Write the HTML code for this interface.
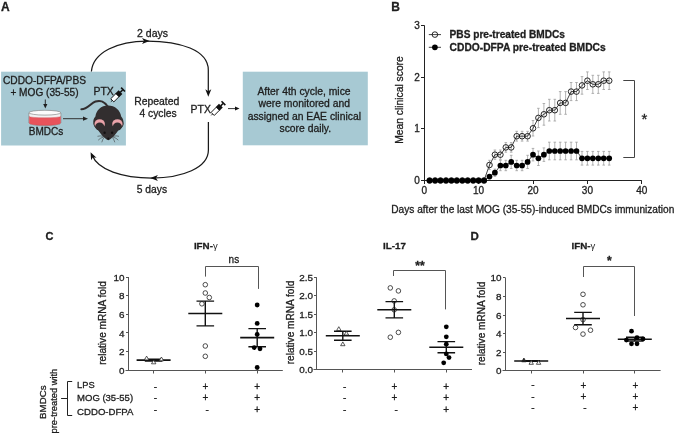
<!DOCTYPE html>
<html><head><meta charset="utf-8"><style>
html,body{margin:0;padding:0;background:#fff;}
svg{display:block;will-change:transform;filter:blur(0.3px);}
text{font-family:"Liberation Sans", sans-serif;fill:#1e1e1e;stroke:#1e1e1e;stroke-width:0.3px;}
</style></head><body>
<svg width="675" height="434" viewBox="0 0 675 434" font-family='"Liberation Sans", sans-serif'>
<rect width="675" height="434" fill="#fff"/>
<text x="0.9" y="10.5" font-size="12" font-weight="bold">A</text><rect x="1.1" y="71.7" width="124.8" height="73.8" fill="#a7c9d3"/><rect x="242.8" y="71.7" width="125" height="73.6" fill="#a7c9d3"/><text x="44.5" y="84.1" font-size="10.2" text-anchor="middle">CDDO-DFPA/PBS</text><text x="44.5" y="96.1" font-size="10.1" text-anchor="middle">+ MOG (35-55)</text><line x1="45.3" y1="99.5" x2="45.3" y2="105" stroke="#1e1e1e" stroke-width="0.9"/><path d="M43.2 104 L47.4 104 L45.3 108.6 Z" fill="#1e1e1e"/><path d="M28.9 113 L28.9 123 A16 2.5 0 0 0 60.9 123 L60.9 113 Z" fill="#f2f2f2" stroke="#777" stroke-width="0.6"/><path d="M29.3 116.4 L29.3 123 A15.6 2.3 0 0 0 60.5 123 L60.5 116.4 A15.6 1.4 0 0 1 29.3 116.4 Z" fill="#e8535b" stroke="#c9474f" stroke-width="0.4"/><ellipse cx="44.9" cy="112.7" rx="16" ry="2.4" fill="#fbfbfb" stroke="#777" stroke-width="0.6"/><text x="46" y="135.4" font-size="10" text-anchor="middle">BMDCs</text><line x1="63" y1="118.7" x2="84" y2="118.7" stroke="#333" stroke-width="1"/><path d="M83 116.6 L88 118.7 L83 120.8 Z" fill="#222"/><text x="93.5" y="95" font-size="10.45">PTX</text><g transform="translate(117.8 94.8) rotate(-45) scale(1.0)"><line x1="-9.8" y1="0" x2="-7.8" y2="0" stroke="#111" stroke-width="0.9"/><rect x="-7.8" y="-2.2" width="7.5" height="4.4" fill="#fff" stroke="#111" stroke-width="0.9"/><rect x="-0.8" y="-2.65" width="4.6" height="5.3" fill="#111"/><rect x="3.6" y="-0.75" width="3.2" height="1.5" fill="#111"/><rect x="6.6" y="-2.7" width="1.6" height="5.4" fill="#111"/></g><g><path d="M108 107 C105 101.5, 100 100, 95.5 101.5 C91 103, 87 109.5, 81.4 109.3" fill="none" stroke="#322e2f" stroke-width="2.1" stroke-linecap="round"/><path d="M108 105.6 C101 105.6, 96.2 110.5, 95.4 116.5 C93.5 118.5, 93 121, 93.4 123.5 C93.8 126, 96 127.5, 97 128.5 C100 133, 104 138.5, 108.3 140.3 C112.6 138.5, 116.6 133, 119.6 128.5 C121 127.5, 123.3 126, 123.5 123.5 C123.7 121, 123 118.5, 121.2 116.5 C120.4 110.5, 115 105.6, 108 105.6 Z" fill="#322e2f"/><ellipse cx="99.7" cy="123.9" rx="6.1" ry="5.6" fill="#322e2f"/><ellipse cx="117.4" cy="123.9" rx="6.1" ry="5.6" fill="#322e2f"/><ellipse cx="99.7" cy="123.9" rx="5.2" ry="4.7" fill="#eaa3a9"/><ellipse cx="117.4" cy="123.9" rx="5.2" ry="4.7" fill="#eaa3a9"/><ellipse cx="99.7" cy="126.5" rx="4.5" ry="4.0" fill="#322e2f"/><ellipse cx="117.4" cy="126.5" rx="4.5" ry="4.0" fill="#322e2f"/><circle cx="104.6" cy="132.8" r="1.2" fill="#141213"/><circle cx="112.1" cy="132.8" r="1.2" fill="#141213"/><circle cx="108.3" cy="138.6" r="1.1" fill="#141213"/><path d="M103.5 136.3 Q100 135.5 97.5 136.3 M103.5 137 Q100 138 98.2 140.2 M104 137.5 Q102.5 139.5 101.8 142.3 M113 136.3 Q116.5 135.5 119 136.3 M113 137 Q116.5 138 118.3 140.2 M112.5 137.5 Q114 139.5 114.8 142.3" stroke="#333" stroke-width="0.55" fill="none"/></g><path d="M91.4 71.5 C93 52, 118 41, 147 41 C180 41, 208.3 50, 208.3 70 L208.3 93" fill="none" stroke="#1a1a1a" stroke-width="1.25"/><path d="M149.60 40.90 L142.00 43.90 L144.00 40.90 L142.00 37.90 Z" fill="#111"/><path d="M208.30 96.80 L205.30 89.20 L208.30 91.20 L211.30 89.20 Z" fill="#111"/><path d="M208.4 122 L208.4 150 C208.4 168, 182 178, 152 178 C122 178, 98 170, 92 155" fill="none" stroke="#1a1a1a" stroke-width="1.25"/><path d="M150.30 178.00 L157.90 175.00 L155.90 178.00 L157.90 181.00 Z" fill="#111"/><path d="M90.60 152.20 L96.53 157.82 L92.97 157.28 L91.09 160.36 Z" fill="#111"/><text x="152.5" y="37.3" font-size="10.5" text-anchor="middle">2 days</text><text x="151.9" y="193" font-size="10.3" text-anchor="middle">5 days</text><text x="156.8" y="104.8" font-size="10.4" text-anchor="middle">Repeated</text><text x="158.1" y="117.3" font-size="10.3" text-anchor="middle">4 cycles</text><text x="190.6" y="113.1" font-size="10.45">PTX</text><g transform="translate(218.2 108.4) rotate(-45) scale(1.0)"><line x1="-9.8" y1="0" x2="-7.8" y2="0" stroke="#111" stroke-width="0.9"/><rect x="-7.8" y="-2.2" width="7.5" height="4.4" fill="#fff" stroke="#111" stroke-width="0.9"/><rect x="-0.8" y="-2.65" width="4.6" height="5.3" fill="#111"/><rect x="3.6" y="-0.75" width="3.2" height="1.5" fill="#111"/><rect x="6.6" y="-2.7" width="1.6" height="5.4" fill="#111"/></g><line x1="228" y1="108.6" x2="236" y2="108.6" stroke="#222" stroke-width="0.9"/><path d="M235 106.6 L239.5 108.6 L235 110.6 Z" fill="#111"/><text x="304.0" y="94.7" font-size="10.35" text-anchor="middle">After 4th cycle, mice</text><text x="304.3" y="107.1" font-size="10.35" text-anchor="middle">were monitored and</text><text x="304.3" y="119.5" font-size="10.35" text-anchor="middle">assigned an EAE clinical</text><text x="305.3" y="131.9" font-size="10.35" text-anchor="middle">score daily.</text><text x="391.2" y="10.6" font-size="12" font-weight="bold">B</text><path d="M424.5 25.4 V180.5 M421.0 180.5 H641.8" stroke="#222" stroke-width="1" fill="none"/><line x1="421" y1="180.5" x2="424.5" y2="180.5" stroke="#222" stroke-width="1"/><text x="419.8" y="184.1" font-size="10" text-anchor="end">0</text><line x1="421" y1="128.5" x2="424.5" y2="128.5" stroke="#222" stroke-width="1"/><text x="419.8" y="132.4" font-size="10" text-anchor="end">1</text><line x1="421" y1="77.5" x2="424.5" y2="77.5" stroke="#222" stroke-width="1"/><text x="419.8" y="80.7" font-size="10" text-anchor="end">2</text><line x1="421" y1="25.5" x2="424.5" y2="25.5" stroke="#222" stroke-width="1"/><text x="419.8" y="29.0" font-size="10" text-anchor="end">3</text><line x1="424.5" y1="180.5" x2="424.5" y2="184" stroke="#222" stroke-width="1"/><text x="424.2" y="193.6" font-size="10" text-anchor="middle">0</text><line x1="478.5" y1="180.5" x2="478.5" y2="184" stroke="#222" stroke-width="1"/><text x="478.6" y="193.6" font-size="10" text-anchor="middle">10</text><line x1="533.5" y1="180.5" x2="533.5" y2="184" stroke="#222" stroke-width="1"/><text x="533.0" y="193.6" font-size="10" text-anchor="middle">20</text><line x1="587.5" y1="180.5" x2="587.5" y2="184" stroke="#222" stroke-width="1"/><text x="587.4" y="193.6" font-size="10" text-anchor="middle">30</text><line x1="641.5" y1="180.5" x2="641.5" y2="184" stroke="#222" stroke-width="1"/><text x="641.8" y="193.6" font-size="10" text-anchor="middle">40</text><text transform="translate(402.9 100) rotate(-90)" font-size="10.3" text-anchor="middle">Mean clinical score</text><text x="532.8" y="212.6" font-size="10.15" text-anchor="middle">Days after the last MOG (35-55)-induced BMDCs immunization</text><path d="M489.5 160.3V169.6M488.2 160.3h2.6M488.2 169.6h2.6M494.9 150.0V159.3M493.6 150.0h2.6M493.6 159.3h2.6M500.4 150.0V159.3M499.1 150.0h2.6M499.1 159.3h2.6M505.8 142.6V152.2M504.5 142.6h2.6M504.5 152.2h2.6M511.2 142.6V152.2M509.9 142.6h2.6M509.9 152.2h2.6M516.7 131.3V141.1M515.4 131.3h2.6M515.4 141.1h2.6M522.1 131.3V141.1M520.8 131.3h2.6M520.8 141.1h2.6M527.6 131.3V141.1M526.3 131.3h2.6M526.3 141.1h2.6M533.0 120.5V136.0M531.7 120.5h2.6M531.7 136.0h2.6M538.4 108.3V127.6M537.1 108.3h2.6M537.1 127.6h2.6M543.9 103.5V125.2M542.6 103.5h2.6M542.6 125.2h2.6M549.3 99.3V121.0M548.0 99.3h2.6M548.0 121.0h2.6M554.8 99.3V121.0M553.5 99.3h2.6M553.5 121.0h2.6M560.2 91.6V114.3M558.9 91.6h2.6M558.9 114.3h2.6M565.6 91.6V114.3M564.3 91.6h2.6M564.3 114.3h2.6M571.1 82.5V100.6M569.8 82.5h2.6M569.8 100.6h2.6M576.5 82.5V100.6M575.2 82.5h2.6M575.2 100.6h2.6M582.0 76.6V94.2M580.7 76.6h2.6M580.7 94.2h2.6M587.4 71.9V89.5M586.1 71.9h2.6M586.1 89.5h2.6M592.8 75.3V93.4M591.5 75.3h2.6M591.5 93.4h2.6M598.3 75.3V93.4M597.0 75.3h2.6M597.0 93.4h2.6M603.7 71.9V89.5M602.4 71.9h2.6M602.4 89.5h2.6M609.2 71.9V89.5M607.9 71.9h2.6M607.9 89.5h2.6M489.5 174.6V178.7M488.2 174.6h2.6M488.2 178.7h2.6M494.9 169.1V176.4M493.6 169.1h2.6M493.6 176.4h2.6M500.4 160.3V170.7M499.1 160.3h2.6M499.1 170.7h2.6M505.8 160.3V170.7M504.5 160.3h2.6M504.5 170.7h2.6M511.2 155.3V168.5M509.9 155.3h2.6M509.9 168.5h2.6M516.7 160.3V170.7M515.4 160.3h2.6M515.4 170.7h2.6M522.1 160.3V170.7M520.8 160.3h2.6M520.8 170.7h2.6M527.6 155.3V168.5M526.3 155.3h2.6M526.3 168.5h2.6M533.0 148.4V160.9M531.7 148.4h2.6M531.7 160.9h2.6M538.4 151.0V165.5M537.1 151.0h2.6M537.1 165.5h2.6M543.9 147.9V161.4M542.6 147.9h2.6M542.6 161.4h2.6M549.3 142.2V159.8M548.0 142.2h2.6M548.0 159.8h2.6M554.8 142.2V159.8M553.5 142.2h2.6M553.5 159.8h2.6M560.2 142.2V159.8M558.9 142.2h2.6M558.9 159.8h2.6M565.6 142.2V159.8M564.3 142.2h2.6M564.3 159.8h2.6M571.1 142.2V159.8M569.8 142.2h2.6M569.8 159.8h2.6M576.5 142.2V159.8M575.2 142.2h2.6M575.2 159.8h2.6M582.0 151.4V165.1M580.7 151.4h2.6M580.7 165.1h2.6M587.4 151.4V165.1M586.1 151.4h2.6M586.1 165.1h2.6M592.8 151.4V165.1M591.5 151.4h2.6M591.5 165.1h2.6M598.3 151.4V165.1M597.0 151.4h2.6M597.0 165.1h2.6M603.7 151.4V165.1M602.4 151.4h2.6M602.4 165.1h2.6M609.2 151.4V165.1M607.9 151.4h2.6M607.9 165.1h2.6" stroke="#9a9a9a" stroke-width="0.75" fill="none"/><polyline points="429.6,180.5 435.1,180.5 440.5,180.5 446.0,180.5 451.4,180.5 456.8,180.5 462.3,180.5 467.7,180.5 473.2,180.5 478.6,180.5 484.0,180.5 489.5,165.0 494.9,154.7 500.4,154.7 505.8,147.4 511.2,147.4 516.7,136.2 522.1,136.2 527.6,136.2 533.0,128.3 538.4,117.9 543.9,114.3 549.3,110.2 554.8,110.2 560.2,102.9 565.6,102.9 571.1,91.6 576.5,91.6 582.0,85.4 587.4,80.7 592.8,84.3 598.3,84.3 603.7,80.7 609.2,80.7" fill="none" stroke="#111" stroke-width="0.8"/><polyline points="429.6,180.5 435.1,180.5 440.5,180.5 446.0,180.5 451.4,180.5 456.8,180.5 462.3,180.5 467.7,180.5 473.2,180.5 478.6,180.5 484.0,180.5 489.5,176.6 494.9,172.7 500.4,165.5 505.8,165.5 511.2,161.9 516.7,165.5 522.1,165.5 527.6,161.9 533.0,154.7 538.4,158.3 543.9,154.7 549.3,151.0 554.8,151.0 560.2,151.0 565.6,151.0 571.1,151.0 576.5,151.0 582.0,158.3 587.4,158.3 592.8,158.3 598.3,158.3 603.7,158.3 609.2,158.3" fill="none" stroke="#111" stroke-width="0.8"/><circle cx="429.6" cy="180.5" r="2.8" fill="none" stroke="#111" stroke-width="0.9"/><circle cx="435.1" cy="180.5" r="2.8" fill="none" stroke="#111" stroke-width="0.9"/><circle cx="440.5" cy="180.5" r="2.8" fill="none" stroke="#111" stroke-width="0.9"/><circle cx="446.0" cy="180.5" r="2.8" fill="none" stroke="#111" stroke-width="0.9"/><circle cx="451.4" cy="180.5" r="2.8" fill="none" stroke="#111" stroke-width="0.9"/><circle cx="456.8" cy="180.5" r="2.8" fill="none" stroke="#111" stroke-width="0.9"/><circle cx="462.3" cy="180.5" r="2.8" fill="none" stroke="#111" stroke-width="0.9"/><circle cx="467.7" cy="180.5" r="2.8" fill="none" stroke="#111" stroke-width="0.9"/><circle cx="473.2" cy="180.5" r="2.8" fill="none" stroke="#111" stroke-width="0.9"/><circle cx="478.6" cy="180.5" r="2.8" fill="none" stroke="#111" stroke-width="0.9"/><circle cx="484.0" cy="180.5" r="2.8" fill="none" stroke="#111" stroke-width="0.9"/><circle cx="489.5" cy="165.0" r="2.8" fill="none" stroke="#111" stroke-width="0.9"/><circle cx="494.9" cy="154.7" r="2.8" fill="none" stroke="#111" stroke-width="0.9"/><circle cx="500.4" cy="154.7" r="2.8" fill="none" stroke="#111" stroke-width="0.9"/><circle cx="505.8" cy="147.4" r="2.8" fill="none" stroke="#111" stroke-width="0.9"/><circle cx="511.2" cy="147.4" r="2.8" fill="none" stroke="#111" stroke-width="0.9"/><circle cx="516.7" cy="136.2" r="2.8" fill="none" stroke="#111" stroke-width="0.9"/><circle cx="522.1" cy="136.2" r="2.8" fill="none" stroke="#111" stroke-width="0.9"/><circle cx="527.6" cy="136.2" r="2.8" fill="none" stroke="#111" stroke-width="0.9"/><circle cx="533.0" cy="128.3" r="2.8" fill="none" stroke="#111" stroke-width="0.9"/><circle cx="538.4" cy="117.9" r="2.8" fill="none" stroke="#111" stroke-width="0.9"/><circle cx="543.9" cy="114.3" r="2.8" fill="none" stroke="#111" stroke-width="0.9"/><circle cx="549.3" cy="110.2" r="2.8" fill="none" stroke="#111" stroke-width="0.9"/><circle cx="554.8" cy="110.2" r="2.8" fill="none" stroke="#111" stroke-width="0.9"/><circle cx="560.2" cy="102.9" r="2.8" fill="none" stroke="#111" stroke-width="0.9"/><circle cx="565.6" cy="102.9" r="2.8" fill="none" stroke="#111" stroke-width="0.9"/><circle cx="571.1" cy="91.6" r="2.8" fill="none" stroke="#111" stroke-width="0.9"/><circle cx="576.5" cy="91.6" r="2.8" fill="none" stroke="#111" stroke-width="0.9"/><circle cx="582.0" cy="85.4" r="2.8" fill="none" stroke="#111" stroke-width="0.9"/><circle cx="587.4" cy="80.7" r="2.8" fill="none" stroke="#111" stroke-width="0.9"/><circle cx="592.8" cy="84.3" r="2.8" fill="none" stroke="#111" stroke-width="0.9"/><circle cx="598.3" cy="84.3" r="2.8" fill="none" stroke="#111" stroke-width="0.9"/><circle cx="603.7" cy="80.7" r="2.8" fill="none" stroke="#111" stroke-width="0.9"/><circle cx="609.2" cy="80.7" r="2.8" fill="none" stroke="#111" stroke-width="0.9"/><circle cx="429.6" cy="180.5" r="2.85" fill="#000"/><circle cx="435.1" cy="180.5" r="2.85" fill="#000"/><circle cx="440.5" cy="180.5" r="2.85" fill="#000"/><circle cx="446.0" cy="180.5" r="2.85" fill="#000"/><circle cx="451.4" cy="180.5" r="2.85" fill="#000"/><circle cx="456.8" cy="180.5" r="2.85" fill="#000"/><circle cx="462.3" cy="180.5" r="2.85" fill="#000"/><circle cx="467.7" cy="180.5" r="2.85" fill="#000"/><circle cx="473.2" cy="180.5" r="2.85" fill="#000"/><circle cx="478.6" cy="180.5" r="2.85" fill="#000"/><circle cx="484.0" cy="180.5" r="2.85" fill="#000"/><circle cx="489.5" cy="176.6" r="2.85" fill="#000"/><circle cx="494.9" cy="172.7" r="2.85" fill="#000"/><circle cx="500.4" cy="165.5" r="2.85" fill="#000"/><circle cx="505.8" cy="165.5" r="2.85" fill="#000"/><circle cx="511.2" cy="161.9" r="2.85" fill="#000"/><circle cx="516.7" cy="165.5" r="2.85" fill="#000"/><circle cx="522.1" cy="165.5" r="2.85" fill="#000"/><circle cx="527.6" cy="161.9" r="2.85" fill="#000"/><circle cx="533.0" cy="154.7" r="2.85" fill="#000"/><circle cx="538.4" cy="158.3" r="2.85" fill="#000"/><circle cx="543.9" cy="154.7" r="2.85" fill="#000"/><circle cx="549.3" cy="151.0" r="2.85" fill="#000"/><circle cx="554.8" cy="151.0" r="2.85" fill="#000"/><circle cx="560.2" cy="151.0" r="2.85" fill="#000"/><circle cx="565.6" cy="151.0" r="2.85" fill="#000"/><circle cx="571.1" cy="151.0" r="2.85" fill="#000"/><circle cx="576.5" cy="151.0" r="2.85" fill="#000"/><circle cx="582.0" cy="158.3" r="2.85" fill="#000"/><circle cx="587.4" cy="158.3" r="2.85" fill="#000"/><circle cx="592.8" cy="158.3" r="2.85" fill="#000"/><circle cx="598.3" cy="158.3" r="2.85" fill="#000"/><circle cx="603.7" cy="158.3" r="2.85" fill="#000"/><circle cx="609.2" cy="158.3" r="2.85" fill="#000"/><line x1="428.8" y1="34.6" x2="441" y2="34.6" stroke="#111" stroke-width="0.8"/><circle cx="434.9" cy="34.6" r="2.8" fill="none" stroke="#111" stroke-width="0.9"/><line x1="428.8" y1="47.3" x2="441" y2="47.3" stroke="#111" stroke-width="0.8"/><circle cx="434.9" cy="47.3" r="2.85" fill="#000"/><text x="449.6" y="38.3" font-size="10.15" font-weight="bold">PBS pre-treated BMDCs</text><text x="449.6" y="51" font-size="10.25" font-weight="bold">CDDO-DFPA pre-treated BMDCs</text><path d="M623.3 80.5 H634.5 V157.5 H623.3" fill="none" stroke="#444" stroke-width="1"/><text x="644.4" y="124.2" font-size="15" text-anchor="middle">*</text><text x="45.5" y="240.0" font-size="11" font-weight="bold">C</text><text x="470.6" y="240.4" font-size="11.5" font-weight="bold">D</text><path d="M128.5 277.0 V370.5 M125.5 370.5 H282.8" stroke="#555" stroke-width="1" fill="none"/><line x1="126.0" y1="370.5" x2="128.5" y2="370.5" stroke="#555" stroke-width="1"/><text x="124.5" y="373.8" font-size="9.9" text-anchor="end">0</text><line x1="126.0" y1="351.5" x2="128.5" y2="351.5" stroke="#555" stroke-width="1"/><text x="124.5" y="355.1" font-size="9.9" text-anchor="end">2</text><line x1="126.0" y1="332.5" x2="128.5" y2="332.5" stroke="#555" stroke-width="1"/><text x="124.5" y="336.5" font-size="9.9" text-anchor="end">4</text><line x1="126.0" y1="314.5" x2="128.5" y2="314.5" stroke="#555" stroke-width="1"/><text x="124.5" y="317.8" font-size="9.9" text-anchor="end">6</text><line x1="126.0" y1="295.5" x2="128.5" y2="295.5" stroke="#555" stroke-width="1"/><text x="124.5" y="299.2" font-size="9.9" text-anchor="end">8</text><line x1="126.0" y1="277.5" x2="128.5" y2="277.5" stroke="#555" stroke-width="1"/><text x="124.5" y="280.5" font-size="9.9" text-anchor="end">10</text><line x1="153.5" y1="370.5" x2="153.5" y2="373.5" stroke="#555" stroke-width="1"/><line x1="205.5" y1="370.5" x2="205.5" y2="373.5" stroke="#555" stroke-width="1"/><line x1="257.5" y1="370.5" x2="257.5" y2="373.5" stroke="#555" stroke-width="1"/><text transform="translate(106.4 323.0) rotate(-90)" font-size="10.1" text-anchor="middle">relative mRNA fold</text><path d="M153.6 359.2 V361.1 M144.79999999999998 359.2 h17.6 M144.79999999999998 361.1 h17.6" stroke="#111" stroke-width="1.4" fill="none"/><line x1="136.6" y1="360.1" x2="170.6" y2="360.1" stroke="#111" stroke-width="1.6"/><path d="M146.6 356.1 L148.79999999999998 359.9 L144.4 359.9 Z" fill="#fff" stroke="#222" stroke-width="0.75"/><path d="M153.7 360.0 L155.89999999999998 363.8 L151.5 363.8 Z" fill="#fff" stroke="#222" stroke-width="0.75"/><path d="M161.4 357.0 L163.6 360.8 L159.20000000000002 360.8 Z" fill="#fff" stroke="#222" stroke-width="0.75"/><path d="M205.3 301.1 V325.9 M196.5 301.1 h17.6 M196.5 325.9 h17.6" stroke="#111" stroke-width="1.4" fill="none"/><line x1="188.3" y1="313.5" x2="222.3" y2="313.5" stroke="#111" stroke-width="1.6"/><circle cx="205.3" cy="284.7" r="2.3" fill="none" stroke="#222" stroke-width="0.8"/><circle cx="205.3" cy="293.0" r="2.3" fill="none" stroke="#222" stroke-width="0.8"/><circle cx="209.3" cy="297.5" r="2.3" fill="none" stroke="#222" stroke-width="0.8"/><circle cx="201.9" cy="303.8" r="2.3" fill="none" stroke="#222" stroke-width="0.8"/><circle cx="205.3" cy="346.0" r="2.3" fill="none" stroke="#222" stroke-width="0.8"/><circle cx="205.3" cy="356.3" r="2.3" fill="none" stroke="#222" stroke-width="0.8"/><path d="M257.2 328.6 V346.7 M248.39999999999998 328.6 h17.6 M248.39999999999998 346.7 h17.6" stroke="#111" stroke-width="1.4" fill="none"/><line x1="240.2" y1="337.6" x2="274.2" y2="337.6" stroke="#111" stroke-width="1.6"/><circle cx="257.2" cy="305.0" r="2.4" fill="#000"/><circle cx="257.2" cy="323.4" r="2.4" fill="#000"/><circle cx="257.2" cy="334.4" r="2.4" fill="#000"/><circle cx="254.2" cy="347.6" r="2.4" fill="#000"/><circle cx="260" cy="348.8" r="2.4" fill="#000"/><circle cx="257.2" cy="367.5" r="2.4" fill="#000"/><text x="205.8" y="248.9" font-size="9.8" text-anchor="middle" font-weight="bold">IFN-<tspan font-weight="normal" style="stroke:none" font-size="9.5">&#947;</tspan></text><path d="M205.5 276.6 V266.5 H258.5 V288.9" fill="none" stroke="#555" stroke-width="1"/><text x="233.9" y="262.7" font-size="10" text-anchor="middle">ns</text><text x="155.4" y="389.8" font-size="10" text-anchor="middle">-</text><text x="155.4" y="401.2" font-size="10" text-anchor="middle">-</text><text x="155.4" y="413.0" font-size="10" text-anchor="middle">-</text><text x="205.3" y="389.6" font-size="10" text-anchor="middle">+</text><text x="205.3" y="401.0" font-size="10" text-anchor="middle">+</text><text x="207.1" y="413.0" font-size="10" text-anchor="middle">-</text><text x="257.2" y="389.6" font-size="10" text-anchor="middle">+</text><text x="257.2" y="401.0" font-size="10" text-anchor="middle">+</text><text x="257.2" y="412.8" font-size="10" text-anchor="middle">+</text><path d="M316.5 277.2 V369.5 M313.5 369.5 H472" stroke="#555" stroke-width="1" fill="none"/><line x1="314.0" y1="369.5" x2="316.5" y2="369.5" stroke="#555" stroke-width="1"/><text x="312.9" y="373.3" font-size="9.9" text-anchor="end">0.0</text><line x1="314.0" y1="351.5" x2="316.5" y2="351.5" stroke="#555" stroke-width="1"/><text x="312.9" y="354.8" font-size="9.9" text-anchor="end">0.5</text><line x1="314.0" y1="332.5" x2="316.5" y2="332.5" stroke="#555" stroke-width="1"/><text x="312.9" y="336.2" font-size="9.9" text-anchor="end">1.0</text><line x1="314.0" y1="314.5" x2="316.5" y2="314.5" stroke="#555" stroke-width="1"/><text x="312.9" y="317.7" font-size="9.9" text-anchor="end">1.5</text><line x1="314.0" y1="295.5" x2="316.5" y2="295.5" stroke="#555" stroke-width="1"/><text x="312.9" y="299.2" font-size="9.9" text-anchor="end">2.0</text><line x1="314.0" y1="277.5" x2="316.5" y2="277.5" stroke="#555" stroke-width="1"/><text x="312.9" y="280.7" font-size="9.9" text-anchor="end">2.5</text><line x1="342.5" y1="369.5" x2="342.5" y2="372.5" stroke="#555" stroke-width="1"/><line x1="394.5" y1="369.5" x2="394.5" y2="372.5" stroke="#555" stroke-width="1"/><line x1="446.5" y1="369.5" x2="446.5" y2="372.5" stroke="#555" stroke-width="1"/><text transform="translate(293.5 322.5) rotate(-90)" font-size="10.1" text-anchor="middle">relative mRNA fold</text><path d="M342.8 331.3 V340.2 M334.0 331.3 h17.6 M334.0 340.2 h17.6" stroke="#111" stroke-width="1.4" fill="none"/><line x1="325.8" y1="335.7" x2="359.8" y2="335.7" stroke="#111" stroke-width="1.6"/><path d="M338.8 326.7 L341.0 330.5 L336.6 330.5 Z" fill="#fff" stroke="#222" stroke-width="0.75"/><path d="M346.4 331.2 L348.59999999999997 335.0 L344.2 335.0 Z" fill="#fff" stroke="#222" stroke-width="0.75"/><path d="M342.8 341.9 L345.0 345.7 L340.6 345.7 Z" fill="#fff" stroke="#222" stroke-width="0.75"/><path d="M394.3 301.6 V317.9 M385.5 301.6 h17.6 M385.5 317.9 h17.6" stroke="#111" stroke-width="1.4" fill="none"/><line x1="377.3" y1="309.8" x2="411.3" y2="309.8" stroke="#111" stroke-width="1.6"/><circle cx="390.3" cy="287.9" r="2.3" fill="none" stroke="#222" stroke-width="0.8"/><circle cx="398.4" cy="290.9" r="2.3" fill="none" stroke="#222" stroke-width="0.8"/><circle cx="394.2" cy="300.9" r="2.3" fill="none" stroke="#222" stroke-width="0.8"/><circle cx="394.2" cy="309.8" r="2.3" fill="none" stroke="#222" stroke-width="0.8"/><circle cx="398.4" cy="332.4" r="2.3" fill="none" stroke="#222" stroke-width="0.8"/><circle cx="390.3" cy="337.2" r="2.3" fill="none" stroke="#222" stroke-width="0.8"/><path d="M446.3 341.6 V352.8 M437.5 341.6 h17.6 M437.5 352.8 h17.6" stroke="#111" stroke-width="1.4" fill="none"/><line x1="429.3" y1="347.2" x2="463.3" y2="347.2" stroke="#111" stroke-width="1.6"/><circle cx="446.3" cy="326.8" r="2.4" fill="#000"/><circle cx="446.3" cy="336.8" r="2.4" fill="#000"/><circle cx="446.3" cy="344.2" r="2.4" fill="#000"/><circle cx="446.3" cy="353.9" r="2.4" fill="#000"/><circle cx="449" cy="357.6" r="2.4" fill="#000"/><circle cx="443.7" cy="362.8" r="2.4" fill="#000"/><text x="394.5" y="248.9" font-size="9.8" text-anchor="middle" font-weight="bold">IL-17</text><path d="M393.5 276 V270.5 H445.5 V309.4" fill="none" stroke="#555" stroke-width="1"/><text x="420" y="270.2" font-size="12" text-anchor="middle" font-weight="bold">**</text><text x="344.6" y="389.8" font-size="10" text-anchor="middle">-</text><text x="344.6" y="401.2" font-size="10" text-anchor="middle">-</text><text x="344.6" y="413.0" font-size="10" text-anchor="middle">-</text><text x="394.3" y="389.6" font-size="10" text-anchor="middle">+</text><text x="394.3" y="401.0" font-size="10" text-anchor="middle">+</text><text x="396.1" y="413.0" font-size="10" text-anchor="middle">-</text><text x="446.2" y="389.6" font-size="10" text-anchor="middle">+</text><text x="446.2" y="401.0" font-size="10" text-anchor="middle">+</text><text x="446.2" y="412.8" font-size="10" text-anchor="middle">+</text><path d="M505.5 277.8 V370.5 M502.5 370.5 H660.6" stroke="#555" stroke-width="1" fill="none"/><line x1="503.0" y1="370.5" x2="505.5" y2="370.5" stroke="#555" stroke-width="1"/><text x="501.5" y="374.3" font-size="9.9" text-anchor="end">0</text><line x1="503.0" y1="352.5" x2="505.5" y2="352.5" stroke="#555" stroke-width="1"/><text x="501.5" y="355.7" font-size="9.9" text-anchor="end">2</text><line x1="503.0" y1="333.5" x2="505.5" y2="333.5" stroke="#555" stroke-width="1"/><text x="501.5" y="337.1" font-size="9.9" text-anchor="end">4</text><line x1="503.0" y1="315.5" x2="505.5" y2="315.5" stroke="#555" stroke-width="1"/><text x="501.5" y="318.5" font-size="9.9" text-anchor="end">6</text><line x1="503.0" y1="296.5" x2="505.5" y2="296.5" stroke="#555" stroke-width="1"/><text x="501.5" y="299.9" font-size="9.9" text-anchor="end">8</text><line x1="503.0" y1="277.5" x2="505.5" y2="277.5" stroke="#555" stroke-width="1"/><text x="501.5" y="281.3" font-size="9.9" text-anchor="end">10</text><line x1="531.5" y1="370.5" x2="531.5" y2="373.5" stroke="#555" stroke-width="1"/><line x1="583.5" y1="370.5" x2="583.5" y2="373.5" stroke="#555" stroke-width="1"/><line x1="634.5" y1="370.5" x2="634.5" y2="373.5" stroke="#555" stroke-width="1"/><text transform="translate(484.6 323.5) rotate(-90)" font-size="10.1" text-anchor="middle">relative mRNA fold</text><path d="M531.2 360.7 V361.4 M522.4000000000001 360.7 h17.6 M522.4000000000001 361.4 h17.6" stroke="#111" stroke-width="1.4" fill="none"/><line x1="514.2" y1="361.0" x2="548.2" y2="361.0" stroke="#111" stroke-width="1.6"/><path d="M523.9 358.0 L526.1 361.8 L521.6999999999999 361.8 Z" fill="#222" stroke="#222" stroke-width="0.75"/><path d="M531.2 360.5 L533.4000000000001 364.3 L529.0 364.3 Z" fill="#fff" stroke="#222" stroke-width="0.75"/><path d="M538.6 360.5 L540.8000000000001 364.3 L536.4 364.3 Z" fill="#fff" stroke="#222" stroke-width="0.75"/><path d="M583 312.4 V324.7 M574.2 312.4 h17.6 M574.2 324.7 h17.6" stroke="#111" stroke-width="1.4" fill="none"/><line x1="566" y1="318.5" x2="600" y2="318.5" stroke="#111" stroke-width="1.6"/><circle cx="583" cy="294.3" r="2.3" fill="none" stroke="#222" stroke-width="0.8"/><circle cx="583" cy="304.8" r="2.3" fill="none" stroke="#222" stroke-width="0.8"/><circle cx="583" cy="319.6" r="2.3" fill="none" stroke="#222" stroke-width="0.8"/><circle cx="575.5" cy="327.5" r="2.3" fill="none" stroke="#222" stroke-width="0.8"/><circle cx="590.5" cy="330.2" r="2.3" fill="none" stroke="#222" stroke-width="0.8"/><circle cx="583" cy="334.1" r="2.3" fill="none" stroke="#222" stroke-width="0.8"/><path d="M634.8 337.3 V341.0 M626.0 337.3 h17.6 M626.0 341.0 h17.6" stroke="#111" stroke-width="1.4" fill="none"/><line x1="617.8" y1="339.2" x2="651.8" y2="339.2" stroke="#111" stroke-width="1.6"/><circle cx="631.5" cy="331.2" r="2.4" fill="#000"/><circle cx="626.4" cy="340.1" r="2.4" fill="#000"/><circle cx="637" cy="337.7" r="2.4" fill="#000"/><circle cx="643" cy="338.9" r="2.4" fill="#000"/><circle cx="631.5" cy="343.8" r="2.4" fill="#000"/><circle cx="637" cy="343.8" r="2.4" fill="#000"/><text x="583.4" y="248.9" font-size="9.8" text-anchor="middle" font-weight="bold">IFN-<tspan font-weight="normal" style="stroke:none" font-size="9.5">&#947;</tspan></text><path d="M583.5 277 V266.5 H634.5 V316" fill="none" stroke="#555" stroke-width="1"/><text x="609.3" y="265.1" font-size="12" text-anchor="middle" font-weight="bold">*</text><text x="533.0" y="388.1" font-size="10" text-anchor="middle">-</text><text x="533.0" y="399.5" font-size="10" text-anchor="middle">-</text><text x="533.0" y="411.0" font-size="10" text-anchor="middle">-</text><text x="583.5" y="388.5" font-size="10" text-anchor="middle">+</text><text x="583.5" y="399.9" font-size="10" text-anchor="middle">+</text><text x="584.8" y="411.0" font-size="10" text-anchor="middle">-</text><text x="635.3" y="388.5" font-size="10" text-anchor="middle">+</text><text x="635.3" y="399.9" font-size="10" text-anchor="middle">+</text><text x="635.3" y="411.4" font-size="10" text-anchor="middle">+</text><text x="77.1" y="388.3" font-size="9.3">LPS</text><text x="77.1" y="401.2" font-size="9.5">MOG (35-55)</text><text x="77.1" y="415.2" font-size="9.6">CDDO-DFPA</text><path d="M72.2 381.5 H67.5 V415.5 H72.2 M67.5 398.5 H61.1" fill="none" stroke="#222" stroke-width="1"/><text transform="translate(46.4 402.2) rotate(-90)" font-size="9.7" text-anchor="middle">BMDCs</text><text transform="translate(56.8 401.1) rotate(-90)" font-size="9.3" text-anchor="middle">pre-treated with</text>
</svg>
</body></html>
